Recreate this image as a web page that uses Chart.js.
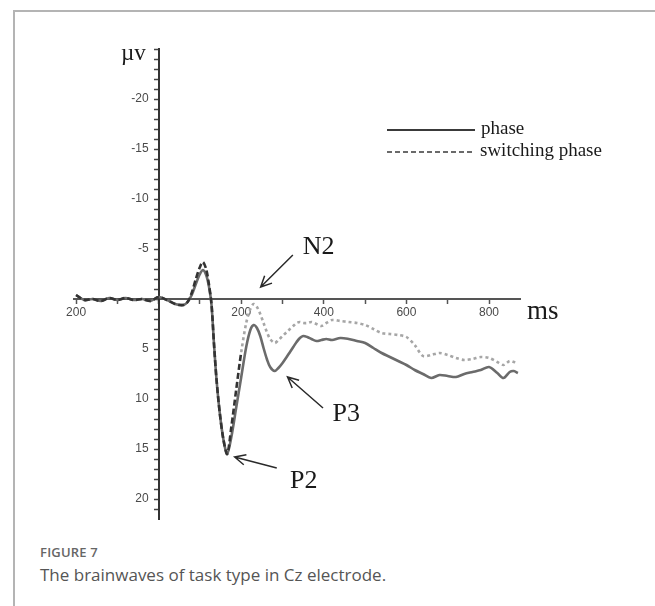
<!DOCTYPE html>
<html>
<head>
<meta charset="utf-8">
<script src="https://cdn.jsdelivr.net/npm/chart.js@4.4.0/dist/chart.umd.min.js"></script>
<style>
  html, body { margin: 0; padding: 0; background: #fff; }
  body { width: 655px; height: 606px; position: relative; overflow: hidden; font-family: "Open Sans", "Noto Sans", sans-serif; }
  #cadre { position: absolute; left: 13px; top: 10px; right: 0; bottom: 0; border-top: 2px solid #b4b4b4; border-left: 2px solid #b4b4b4; }
  #zone { position: absolute; left: 0; top: 0; width: 655px; height: 540px; }
  #figNum { position: absolute; left: 40px; top: 543px; font-size: 13px; font-weight: 600; color: #666; letter-spacing: 0.2px; }
  #figTexte { position: absolute; left: 40px; top: 563px; font-size: 17px; color: #555; }
</style>
</head>
<body>
<div id="cadre"></div>
<div id="zone"><canvas id="chartCz" width="655" height="540"></canvas></div>
<div id="figNum">FIGURE 7</div>
<div id="figTexte">The brainwaves of task type in Cz electrode.</div>
<script>
// ====================================================================
// Ondes cérébrales à l'électrode Cz (phase / switching phase)
// ====================================================================

// Temps (ms) des échantillons
const tempsMs = [
    -200, -180, -160, -140, -120, -100, -80, -60, -40, -20,
    0, 20, 40, 60, 70, 80, 90, 100,
    107, 115, 122, 128, 134, 140, 148, 157, 166,
    176, 188, 200, 212, 222, 230, 238, 246, 254, 262, 270, 281, 290, 300, 310, 318, 326, 334, 342, 350,
    360, 370, 382, 394, 406, 420,
    440, 460, 480, 500, 520, 540, 560, 580, 600, 620, 640, 660, 680, 700, 720, 740, 760, 780, 800, 820,
    835, 850, 860, 870
];

// Amplitude (µV) - phase
const phaseUv = [
    -0.4, 0.1, 0.0, 0.2, -0.1, 0.1, -0.1, 0.1, 0.0, 0.2,
    -0.2, 0.1, 0.5, 0.6, 0.3, -0.4, -1.5, -2.5,
    -2.9, -2.4, -1.2, 0.6, 4.5, 8.0, 11.4, 14.1, 15.5,
    13.8, 10.8, 7.8, 4.8, 3.1, 2.6, 2.9, 3.7, 4.9, 6.0, 6.8, 7.2, 6.9, 6.4, 5.8, 5.3, 4.8, 4.3, 3.9, 3.7,
    3.8, 4.0, 4.2, 4.1, 4.0, 4.1,
    3.9, 4.0, 4.2, 4.4, 4.9, 5.4, 5.8, 6.2, 6.6, 7.1, 7.5, 7.9, 7.6, 7.7, 7.8, 7.5, 7.3, 7.1, 6.8, 7.4,
    7.9, 7.3, 7.2, 7.4
];

// Amplitude (µV) - switching phase
const switchingUv = [
    -0.4, 0.1, 0.0, 0.2, -0.1, 0.1, -0.1, 0.1, 0.0, 0.2,
    -0.2, 0.1, 0.5, 0.6, 0.3, -0.6, -2.0, -3.2,
    -3.7, -3.0, -1.4, 0.5, 4.5, 8.0, 11.4, 14.1, 15.5,
    12.8, 9.0, 5.3, 2.4, 1.0, 0.5, 0.8, 1.5, 2.4, 3.3, 4.0, 4.4, 4.1, 3.7, 3.3, 3.0, 2.7, 2.4, 2.3, 2.4,
    2.4, 2.3, 2.5, 2.7, 2.4, 2.1,
    2.2, 2.3, 2.4, 2.6, 3.0, 3.4, 3.5, 3.6, 3.8, 4.6, 5.7, 5.6, 5.4, 5.6, 5.9, 6.1, 6.0, 5.8, 5.9, 6.3,
    6.6, 6.2, 6.3, 6.4
];

// Graduations des axes
const xTickValues = [-200, -100, 0, 100, 200, 300, 400, 500, 600, 700, 800];
const xLabelValues = [-200, 200, 400, 600, 800];
const xLabelTexts = ['200', '200', '400', '600', '800'];
const yLabelValues = [-20, -15, -10, -5, 5, 10, 15, 20];
const yLabelTexts = ['-20', '-15', '-10', '-5', '5', '10', '15', '20'];

// Légende et composantes
const seriesNoms = ['phase', 'switching phase'];
const pics = [
    { nom: 'N2', tete: [247, -1.2], queue: [325, -4.4], texte: [349, -5.2] },
    { nom: 'P3', tete: [312, 7.8], queue: [398, 10.9], texte: [421, 11.5] },
    { nom: 'P2', tete: [184, 15.8], queue: [286, 16.9], texte: [318, 18.2] }
];

const SERIF = "'Liberation Serif', 'Times New Roman', serif";
const SANS = "'Liberation Sans', Arial, sans-serif";

function pointsDe(valeurs) {
    return tempsMs.map((t, i) => ({ x: t, y: valeurs[i] }));
}

function dessinerFleche(ctx, x1, y1, x2, y2) {
    const angle = Math.atan2(y2 - y1, x2 - x1);
    const l = 12;
    ctx.beginPath();
    ctx.moveTo(x1, y1);
    ctx.lineTo(x2, y2);
    ctx.moveTo(x2 - l * Math.cos(angle - 0.45), y2 - l * Math.sin(angle - 0.45));
    ctx.lineTo(x2, y2);
    ctx.lineTo(x2 - l * Math.cos(angle + 0.45), y2 - l * Math.sin(angle + 0.45));
    ctx.stroke();
}

// Plugin : titres d'axes, légende, flèches des composantes
const decorPlugin = {
    id: 'decorCz',
    afterDraw(chart) {
        const { ctx, scales: { x, y } } = chart;
        ctx.save();
        ctx.fillStyle = '#1a1a1a';
        ctx.textBaseline = 'middle';

        // Unités
        ctx.font = '23px ' + SERIF;
        ctx.textAlign = 'right';
        ctx.fillText('µv', x.getPixelForValue(0) - 13, y.getPixelForValue(-24.5));
        ctx.font = '27px ' + SERIF;
        ctx.textAlign = 'left';
        ctx.fillText('ms', x.right + 7, y.getPixelForValue(1.3));

        // Légende
        const lx1 = 387, lx2 = 475;
        const ly = [130, 152];
        ctx.strokeStyle = '#3a3a3a';
        ctx.lineWidth = 2;
        ctx.beginPath();
        ctx.moveTo(lx1, ly[0]);
        ctx.lineTo(lx2, ly[0]);
        ctx.stroke();
        ctx.lineWidth = 1.3;
        ctx.setLineDash([5, 3]);
        ctx.beginPath();
        ctx.moveTo(lx1, ly[1]);
        ctx.lineTo(lx2, ly[1]);
        ctx.stroke();
        ctx.setLineDash([]);
        ctx.font = '19px ' + SERIF;
        ctx.fillText(seriesNoms[0], lx2 + 6, ly[0] - 1);
        ctx.fillText(seriesNoms[1], lx2 + 5, ly[1] - 1);

        // Composantes N2 / P2 / P3
        ctx.strokeStyle = '#2a2a2a';
        ctx.lineWidth = 1.5;
        ctx.font = '26px ' + SERIF;
        pics.forEach(p => {
            dessinerFleche(ctx,
                x.getPixelForValue(p.queue[0]), y.getPixelForValue(p.queue[1]),
                x.getPixelForValue(p.tete[0]), y.getPixelForValue(p.tete[1]));
            ctx.fillText(p.nom, x.getPixelForValue(p.texte[0]), y.getPixelForValue(p.texte[1]));
        });
        ctx.restore();
    }
};

const canvas = document.getElementById('chartCz');
const chartCz = new Chart(canvas.getContext('2d'), {
    type: 'line',
    data: {
        datasets: [
            {
                label: seriesNoms[1],
                data: pointsDe(switchingUv),
                borderWidth: 2.6,
                borderColor: '#a6a6a6',
                tension: 0.3,
                order: 0,
                segment: {
                    borderColor: c => c.p0.parsed.x < 200 ? '#333333' : '#a6a6a6',
                    borderDash: c => c.p0.parsed.x < 200 ? [6, 3] : [3, 3]
                }
            },
            {
                label: seriesNoms[0],
                data: pointsDe(phaseUv),
                borderWidth: 2.6,
                borderColor: '#6b6b6b',
                tension: 0.3,
                order: 1
            }
        ]
    },
    options: {
        responsive: false,
        animation: false,
        layout: { padding: { left: 74, right: 135, top: 49, bottom: 21 } },
        elements: { point: { radius: 0 } },
        plugins: {
            legend: { display: false },
            tooltip: { enabled: false }
        },
        scales: {
            x: {
                type: 'linear',
                min: -205,
                max: 875,
                position: { y: 0 },
                afterBuildTicks: s => { s.ticks = xTickValues.map(v => ({ value: v })); },
                ticks: {
                    autoSkip: false,
                    maxRotation: 0,
                    padding: 2,
                    color: '#4a4a4a',
                    font: { family: SANS, size: 12 },
                    callback: v => {
                        const i = xLabelValues.indexOf(v);
                        return i >= 0 ? xLabelTexts[i] : '';
                    }
                },
                grid: { drawOnChartArea: false, drawTicks: true, tickLength: 4, tickColor: '#555', tickWidth: 1.5 },
                border: { display: true, color: '#555', width: 2 }
            },
            y: {
                type: 'linear',
                reverse: true,
                min: -25,
                max: 22,
                position: { x: 0 },
                afterBuildTicks: s => {
                    const t = [];
                    for (let v = -25; v <= 21; v++) t.push({ value: v });
                    s.ticks = t;
                },
                ticks: {
                    autoSkip: false,
                    color: '#4a4a4a',
                    font: { family: SANS, size: 12 },
                    // l'axe positionné en x = 0 place le texte contre le trait : on le décale
                    callback: v => {
                        const i = yLabelValues.indexOf(v);
                        return i >= 0 ? yLabelTexts[i] + '\u00a0\u00a0\u00a0' : '';
                    }
                },
                grid: { drawOnChartArea: false, drawTicks: true, tickLength: 4, tickColor: '#444', tickWidth: 1.5 },
                border: { display: true, color: '#333', width: 2 }
            }
        }
    },
    plugins: [decorPlugin]
});
</script>
</body>
</html>
